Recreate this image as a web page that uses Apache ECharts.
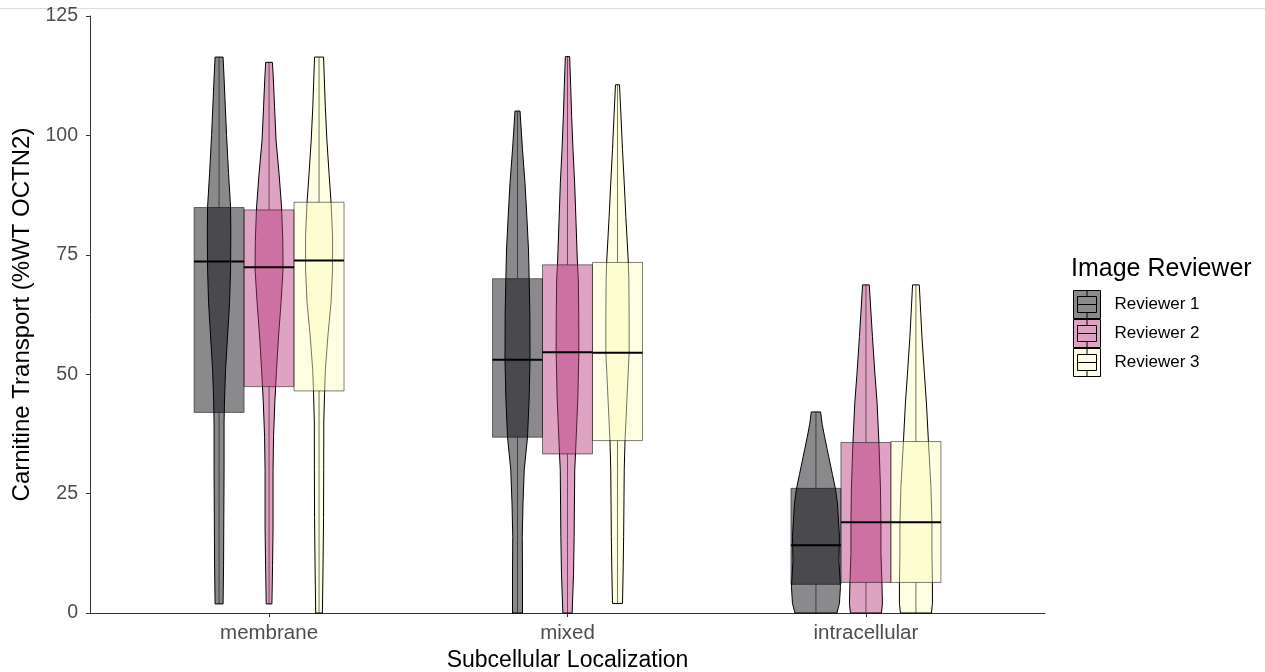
<!DOCTYPE html>
<html>
<head>
<meta charset="utf-8">
<script src="https://cdn.jsdelivr.net/npm/echarts@6/dist/echarts.min.js"></script>
<style>html,body{margin:0;padding:0;background:#fff;}#chart{width:1265px;height:672px;}</style>
</head>
<body>
<div id="chart"></div>
<script>
// ---- data ----
const categories = ['membrane', 'mixed', 'intracellular'];
const reviewers = ['Reviewer 1', 'Reviewer 2', 'Reviewer 3'];
const reviewerColors = ['#000004', '#B63679', '#FCFDBF'];
const yTicks = [0, 25, 50, 75, 100, 125];

// box statistics per category: [q1, median, q3]
const boxReviewer1 = [[42.0, 73.6, 84.9], [36.8, 53.0, 70.0], [6.0, 14.2, 26.1]];
const boxReviewer2 = [[47.4, 72.4, 84.4], [33.3, 54.6, 72.9], [6.4, 19.0, 35.7]];
const boxReviewer3 = [[46.5, 73.8, 86.0], [36.1, 54.5, 73.4], [6.4, 19.0, 35.9]];

// violin density profiles: [value, relative density]
const violinR1Membrane = [[1.9,8],[10,9],[20,9.5],[30,10],[40,10],[45,11],[51,13],[58,17],[65,21],[72,23],[80,23.5],[85,23],[92,19],[100,15],[106,12.5],[112,10],[116.4,8]];
const violinR2Membrane = [[1.9,5.7],[10,7],[18,8],[30,8],[37,9],[44,11.5],[51,15],[58,19],[65,24],[72,28],[78,27.5],[85,25],[92,20],[99,14],[106,11],[112,8.5],[115.3,6.7]];
const violinR3Membrane = [[0,6.7],[10,8],[20,9],[30,9.3],[40,9.5],[46,11],[51,12.7],[58,17.7],[65,24],[72,27],[79,27],[86,24],[92,20],[99,15.7],[106,12.5],[112,10.5],[116.4,9]];
const violinR1Mixed = [[0,10],[9,10],[16,9.5],[23,11],[30,13.5],[36.8,20],[45,23.3],[53,25],[62.8,24.7],[70,23.3],[76,22],[83,18.7],[90,15],[97,10],[105.1,5]];
const violinR2Mixed = [[0,9.3],[8,12],[16,13.3],[30,14.5],[33.3,16],[45,20.7],[54.6,22.7],[62,22.5],[69.7,21.7],[73,20],[82,17],[90,14.3],[97,11],[104,8.3],[110,6.5],[116.5,4.3]];
const violinR3Mixed = [[2,10],[10,11.5],[16,12.3],[24,13],[30,13.5],[36,15],[45,19],[54.5,23.3],[62,23.3],[70,22.7],[73.4,21.7],[83,16.7],[90,13.5],[97,10],[104,7],[110.6,4]];
const violinR1Intra = [[0,42],[2,47],[5.5,49],[9,47],[11,46],[16,47],[23,43],[26,39],[29,33],[32,27],[34.5,22],[36.9,17.3],[39.5,12.5],[42.1,9.3]];
const violinR2Intra = [[0,31],[2,33],[6.4,32],[12.5,30],[19,30],[26.4,29],[35.7,26],[44,22.3],[50,18],[57.9,13],[63,10],[68.7,6.7]];
const violinR3Intra = [[0,31],[2,33],[6.4,33],[12.5,32],[19,32],[26.4,30],[35.9,25],[44,21],[50,17],[57.9,12],[63,9.5],[68.7,6.7]];

// ---- assembly ----
const boxes = [boxReviewer1, boxReviewer2, boxReviewer3];
const violins = [
  [violinR1Membrane, violinR1Mixed, violinR1Intra],
  [violinR2Membrane, violinR2Mixed, violinR2Intra],
  [violinR3Membrane, violinR3Mixed, violinR3Intra]
];
const DODGE = 0.1675;      // x-axis units between reviewers
const DENSITY_REF = 50;    // density value equal to one box width
const ALPHA = 0.46;
const FONT = '"Liberation Sans", Arial, Helvetica, sans-serif';

function hexToRgba(hex, a) {
  const n = parseInt(hex.slice(1), 16);
  return 'rgba(' + ((n >> 16) & 255) + ',' + ((n >> 8) & 255) + ',' + (n & 255) + ',' + a + ')';
}

function makeSeries(r) {
  const data = categories.map((c, i) => {
    const prof = violins[r][i];
    const b = boxes[r][i];
    return [i + 1, prof[0][0], b[0], b[1], b[2], prof[prof.length - 1][0]];
  });
  const fill = hexToRgba(reviewerColors[r], ALPHA);
  return {
    name: reviewers[r],
    type: 'custom',
    itemStyle: { color: fill, borderColor: '#000', borderWidth: 1 },
    encode: { x: 0, y: [1, 2, 3, 4, 5] },
    data: data,
    renderItem: function (params, api) {
      const i = params.dataIndex;
      const cx = api.value(0) + (r - 1) * DODGE;
      const boxW = api.size([DODGE, 0])[0];
      const xc = api.coord([cx, 0])[0];
      const prof = violins[r][i];
      const right = prof.map(p => [xc + p[1] / DENSITY_REF * boxW / 2, api.coord([cx, p[0]])[1]]);
      const left = prof.slice().reverse().map(p => [xc - p[1] / DENSITY_REF * boxW / 2, api.coord([cx, p[0]])[1]]);
      const pts = right.concat(left);
      const vMin = api.value(1), q1 = api.value(2), med = api.value(3), q3 = api.value(4), vMax = api.value(5);
      const yq1 = api.coord([cx, q1])[1], yq3 = api.coord([cx, q3])[1], ymed = api.coord([cx, med])[1];
      const ymin = api.coord([cx, vMin])[1], ymax = api.coord([cx, vMax])[1];
      return {
        type: 'group',
        children: [
          { type: 'polygon', shape: { points: pts, smooth: 0 },
            style: { fill: fill, stroke: '#000', lineWidth: 1 } },
          { type: 'line', shape: { x1: xc, y1: yq3, x2: xc, y2: ymax },
            style: { stroke: 'rgba(0,0,0,0.55)', lineWidth: 1 } },
          { type: 'line', shape: { x1: xc, y1: yq1, x2: xc, y2: ymin },
            style: { stroke: 'rgba(0,0,0,0.55)', lineWidth: 1 } },
          { type: 'rect', shape: { x: xc - boxW / 2, y: yq3, width: boxW, height: yq1 - yq3 },
            style: { fill: fill, stroke: 'rgba(0,0,0,0.5)', lineWidth: 1 } },
          { type: 'line', shape: { x1: xc - boxW / 2, y1: ymed, x2: xc + boxW / 2, y2: ymed },
            style: { stroke: '#000', lineWidth: 2 } }
        ]
      };
    }
  };
}

const chart = echarts.init(document.getElementById('chart'), null, { renderer: 'canvas' });
chart.setOption({
  animation: false,
  backgroundColor: '#fff',
  textStyle: { fontFamily: FONT },
  grid: { left: 90, right: 220, top: 16, bottom: 59, containLabel: false, outerBoundsMode: 'none' },
  title: {
    text: 'Image Reviewer', left: 1071, top: 257, padding: 0,
    textStyle: { fontFamily: FONT, fontSize: 25, fontWeight: 'normal', color: '#000' }
  },
  legend: {
    orient: 'vertical', left: 1073, top: 290, padding: 0,
    itemWidth: 27, itemHeight: 28, itemGap: 0,
    icon: 'path://M0,0H27V28H0Z M4,6H23V22H4Z M4,14H23 M13.5,0V6 M13.5,22V28',
    itemStyle: { borderColor: '#000', borderWidth: 1 },
    textStyle: { fontFamily: FONT, fontSize: 17, color: '#000', padding: [3, 0, 0, 9] },
    data: reviewers
  },
  graphic: [{
    type: 'line', shape: { x1: 0, y1: 8.5, x2: 1265, y2: 8.5 },
    style: { stroke: '#dcdcdc', lineWidth: 1 }, silent: true
  }],
  xAxis: {
    type: 'value', min: 0.4, max: 3.6,
    name: 'Subcellular Localization', nameLocation: 'middle', nameGap: 33,
    nameTextStyle: { fontFamily: FONT, fontSize: 23, color: '#000' },
    axisLine: { show: true, lineStyle: { color: '#333', width: 1 } },
    axisTick: { show: true, length: 4, customValues: [1, 2, 3], lineStyle: { color: '#333' } },
    axisLabel: { customValues: [1, 2, 3], fontFamily: FONT, fontSize: 20.5, color: '#4d4d4d', margin: 10,
      formatter: v => categories[Math.round(v) - 1] || '' },
    splitLine: { show: false }
  },
  yAxis: {
    type: 'value', min: 0, max: 125, interval: 25,
    name: 'Carnitine Transport (%WT OCTN2)', nameLocation: 'middle', nameGap: 55,
    nameTextStyle: { fontFamily: FONT, fontSize: 24, color: '#000' },
    axisLine: { show: true, lineStyle: { color: '#333', width: 1 } },
    axisTick: { show: true, length: 4, lineStyle: { color: '#333' } },
    axisLabel: { fontFamily: FONT, fontSize: 19.5, color: '#4d4d4d', margin: 12,
      formatter: v => (yTicks.indexOf(v) >= 0 ? String(v) : '') },
    splitLine: { show: false }
  },
  series: [makeSeries(0), makeSeries(1), makeSeries(2)]
});
</script>
</body>
</html>
